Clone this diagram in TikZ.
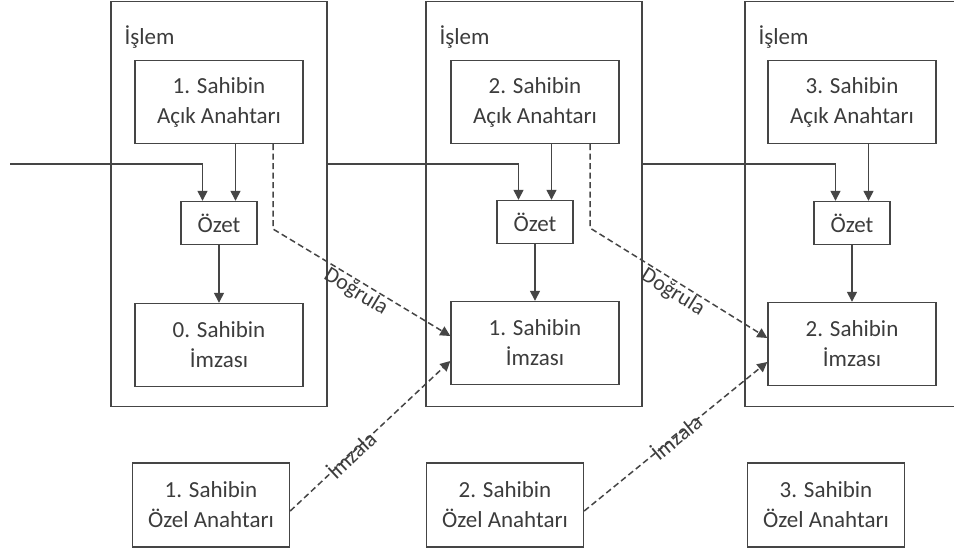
\documentclass[tikz,border=0pt]{standalone}
\usepackage{fontspec}
\setmainfont{Carlito}
\usetikzlibrary{arrows.meta}
\definecolor{ln}{HTML}{454545}
\definecolor{tx}{HTML}{3C3C3C}
\begin{document}
\begin{tikzpicture}[x=1pt,y=-1pt,
  every node/.style={font=\fontsize{23}{30}\selectfont, text=tx},
  panel/.style={draw=ln, line width=1.6pt, minimum width=216pt, minimum height=405pt, inner sep=0pt},
  bigbox/.style={draw=ln, line width=1.4pt, minimum width=168pt, minimum height=83pt, align=center, inner sep=0pt},
  privbox/.style={draw=ln, line width=1.4pt, minimum width=157pt, minimum height=84pt, align=center, inner sep=0pt},
  hashbox/.style={draw=ln, line width=1.4pt, minimum width=76pt, minimum height=43pt, inner sep=0pt},
  conn/.style={draw=ln, line width=1.4pt, -{Triangle[length=10pt,width=10pt]}},
  dconn/.style={draw=ln, line width=1.5pt, dash pattern=on 6pt off 3.5pt, -{Triangle[length=10pt,width=10pt]}},
  lbl/.style={font=\fontsize{22}{24}\selectfont, sloped, inner sep=1pt}
]
\useasboundingbox (0,0) rectangle (954,553);
\fill[white] (0,0) rectangle (954,553);

% panels
\node[panel] (p1) at (219,204) {};
\node[panel] (p2) at (534,204) {};
\node[panel] (p3) at (853,204) {};
\node[anchor=west] (t1) at (121,37) {İşlem};
\node[anchor=west] (t2) at (436,37) {İşlem};
\node[anchor=west] (t3) at (755,37) {İşlem};

% public keys
\node[bigbox] (ak1) at (219,102) {1. Sahibin\\Açık Anahtarı};
\node[bigbox] (ak2) at (535,102) {2. Sahibin\\Açık Anahtarı};
\node[bigbox] (ak3) at (852,102) {3. Sahibin\\Açık Anahtarı};

% hashes
\node[hashbox] (oz1) at (219,223) {Özet};
\node[hashbox] (oz2) at (535,222) {Özet};
\node[hashbox] (oz3) at (852,223) {Özet};

% signatures
\node[bigbox] (im1) at (219,345) {0. Sahibin\\İmzası};
\node[bigbox] (im2) at (535,343) {1. Sahibin\\İmzası};
\node[bigbox] (im3) at (852,344) {2. Sahibin\\İmzası};

% private keys
\node[privbox] (pk1) at (211,505) {1. Sahibin\\Özel Anahtarı};
\node[privbox] (pk2) at (505,505) {2. Sahibin\\Özel Anahtarı};
\node[privbox] (pk3) at (826,505) {3. Sahibin\\Özel Anahtarı};

% chain lines
\coordinate (s1) at (10,164);
\draw[conn] (s1) -| ([xshift=-16.5pt]oz1.north);
\draw[conn] (p1.east |- 0,164) -| ([xshift=-16.5pt]oz2.north);
\draw[conn] (p2.east |- 0,164) -| ([xshift=-16.5pt]oz3.north);

\foreach \i in {1,2,3}{
  \draw[conn] ([xshift=16.5pt]ak\i.south) -- ([xshift=16.5pt]oz\i.north);
  \draw[conn] (oz\i.south) -- (im\i.north);
}

% verify
\coordinate (v1) at (273,229);
\coordinate (v2) at (590,228);
\draw[dconn] ([xshift=54pt]ak1.south) -- (v1) -- node[lbl, below, pos=0.5] {Doğrula} ([yshift=7pt]im2.west);
\draw[dconn] ([xshift=55pt]ak2.south) -- (v2) -- node[lbl, below, pos=0.5] {Doğrula} ([yshift=6pt]im3.west);

% sign
\draw[dconn] ([yshift=-6pt]pk1.east) -- node[lbl, pos=0.38] {İmzala} ([yshift=-18pt]im2.west);
\draw[dconn] ([yshift=-6pt]pk2.east) -- node[lbl, pos=0.5] {İmzala} ([yshift=-18pt]im3.west);
\end{tikzpicture}
\end{document}
